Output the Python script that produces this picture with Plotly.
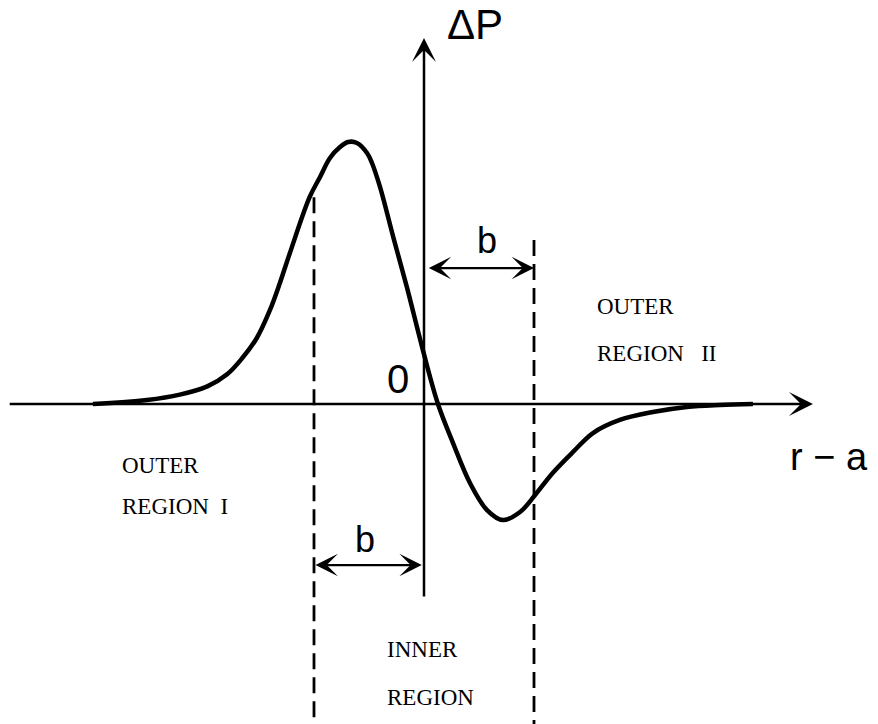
import plotly.graph_objects as go

# Pressure perturbation profile across the resonant layer (x in units of b)
r_minus_a = [-3.01, -2.52, -2.22, -1.97, -1.79, -1.65, -1.52, -1.40, -1.31, -1.22,
             -1.04, -0.945, -0.855, -0.764, -0.69, -0.609, -0.518, -0.473, -0.40, -0.28,
             -0.155, -0.01, 0.127, 0.264, 0.418, 0.573, 0.718, 0.873, 1.01, 1.17,
             1.355, 1.536, 1.78, 2.08, 2.39, 2.69, 2.99]
delta_p = [0.0, 0.036, 0.085, 0.16, 0.27, 0.42, 0.60, 0.855, 1.10, 1.37,
           1.88, 2.064, 2.236, 2.336, 2.382, 2.373, 2.282, 2.191, 1.973, 1.52,
           1.06, 0.49, 0.0, -0.355, -0.718, -0.964, -1.055, -0.982, -0.827, -0.627,
           -0.436, -0.264, -0.145, -0.073, -0.027, -0.009, 0.0]

b = 1.0                      # half-width of the inner region
dash_top = {-b: 1.88, b: 1.49}  # where each boundary line starts (on/near the curve)

x_axis_span = (-3.78, 3.536)
y_axis_span = (-1.764, 3.327)
x_range = [-424 / 110, 454 / 110]
y_range = [-320 / 110, 404 / 110]

region_labels = [
    ("OUTER", -2.764, -0.555), ("REGION\u00a0\u00a0I", -2.764, -0.936),
    ("OUTER", 1.555, 0.882), ("REGION\u00a0\u00a0\u00a0II", 1.555, 0.455),
    ("INNER", -0.355, -2.236), ("REGION", -0.355, -2.664),
]

fig = go.Figure()
fig.add_trace(go.Scatter(
    x=r_minus_a, y=delta_p, mode="lines",
    line=dict(color="black", width=4.5, shape="spline", smoothing=1.0),
    hoverinfo="skip", showlegend=False,
))

# boundaries of the inner region
for xb, ytop in dash_top.items():
    fig.add_shape(type="line", x0=xb, x1=xb, y0=ytop, y1=y_range[0] - 0.1,
                  xref="x", yref="y",
                  line=dict(color="black", width=2.8, dash="16px,8px"))

arrow_common = dict(xref="x", yref="y", axref="x", ayref="y", text="",
                    showarrow=True, arrowcolor="black", standoff=0, startstandoff=0)

# coordinate axes
fig.add_annotation(x=x_axis_span[1], y=0, ax=x_axis_span[0], ay=0,
                   arrowhead=3, arrowsize=1.6, arrowwidth=2.5, **arrow_common)
fig.add_annotation(x=0, y=y_axis_span[1], ax=0, ay=y_axis_span[0],
                   arrowhead=3, arrowsize=1.6, arrowwidth=2.5, **arrow_common)

# width markers "b"
fig.add_annotation(x=b, y=1.236, ax=0.03, ay=1.236, arrowside="end+start",
                   arrowhead=3, startarrowhead=3, arrowsize=1.7, startarrowsize=1.7,
                   arrowwidth=2.2, **arrow_common)
fig.add_annotation(x=-0.02, y=-1.464, ax=-b, ay=-1.464, arrowside="end+start",
                   arrowhead=3, startarrowhead=3, arrowsize=1.7, startarrowsize=1.7,
                   arrowwidth=2.2, **arrow_common)

sans = dict(family="Liberation Sans", color="black")
serif = dict(family="Liberation Serif", color="black", size=23)

fig.add_annotation(x=0.57, y=1.49, text="b", showarrow=False,
                   font=dict(size=36, **sans), xanchor="center", yanchor="middle")
fig.add_annotation(x=-0.535, y=-1.236, text="b", showarrow=False,
                   font=dict(size=36, **sans), xanchor="center", yanchor="middle")
fig.add_annotation(x=-0.236, y=0.227, text="0", showarrow=False,
                   font=dict(size=40, **sans), xanchor="center", yanchor="middle")
fig.add_annotation(x=0.19, y=3.4545, text="ΔP", showarrow=False,
                   font=dict(size=42, **sans), xanchor="left", yanchor="middle")
fig.add_annotation(x=(788 - 424) / 110, y=-0.48, text="r − a", showarrow=False,
                   font=dict(size=38, **sans), xanchor="left", yanchor="middle")

for txt, xl, yc in region_labels:
    fig.add_annotation(x=xl, y=yc, text=txt, showarrow=False, font=serif,
                       xanchor="left", yanchor="middle")

fig.update_layout(
    width=878, height=724, autosize=False,
    margin=dict(l=0, r=0, t=0, b=0),
    paper_bgcolor="white", plot_bgcolor="white",
    xaxis=dict(range=x_range, visible=False, fixedrange=True),
    yaxis=dict(range=y_range, visible=False, fixedrange=True),
    showlegend=False,
)

fig.write_html("out.html")
